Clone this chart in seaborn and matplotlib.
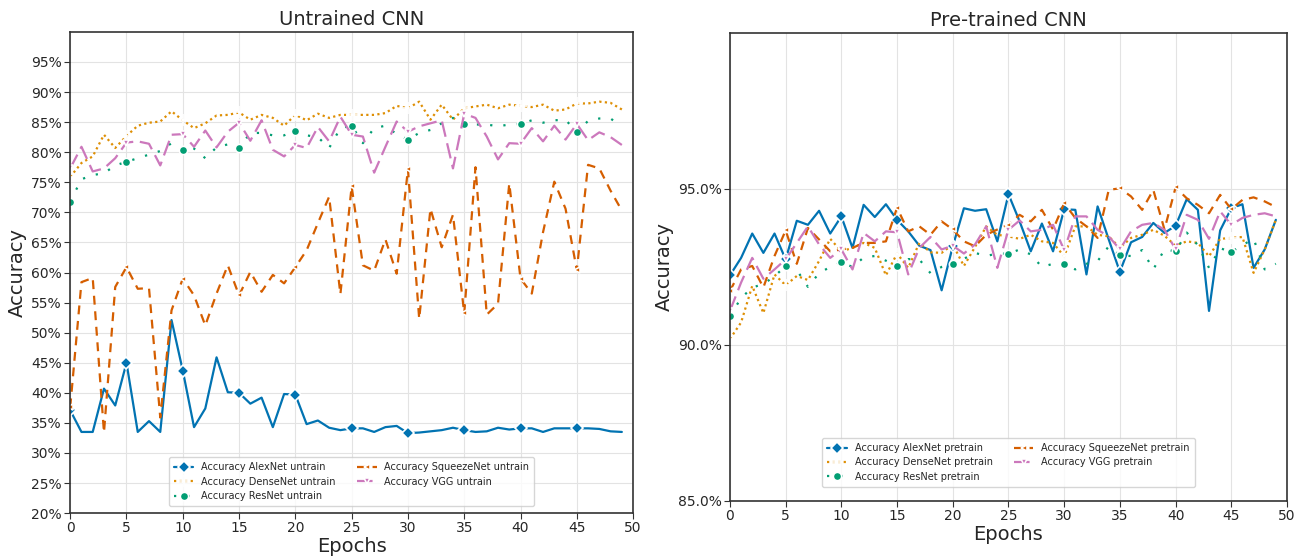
import numpy as np
import pandas as pd
import matplotlib
matplotlib.use("Agg")
import matplotlib.pyplot as plt
import seaborn as sns
from matplotlib.ticker import FuncFormatter

epochs = list(range(50))

# untrained accuracies (%)
alex_untrain = [37.1, 33.5, 33.5, 40.7, 37.9, 45.0, 33.5, 35.3, 33.5, 52.1,
                43.7, 34.3, 37.4, 45.9, 40.1, 40.0, 38.2, 39.2, 34.3, 39.8,
                39.7, 34.8, 35.4, 34.2, 33.8, 34.1, 34.1, 33.5, 34.3, 34.5,
                33.3, 33.4, 33.6, 33.8, 34.2, 33.8, 33.5, 33.6, 34.2, 33.9,
                34.1, 34.1, 33.5, 34.1, 34.1, 34.1, 34.1, 34.0, 33.6, 33.5]
dense_untrain = [75.9, 78.2, 79.3, 82.9, 80.7, 82.7, 84.4, 84.9, 85.1, 86.8,
                 85.3, 84.0, 84.8, 86.1, 86.2, 86.6, 85.4, 86.2, 85.7, 84.4,
                 86.2, 85.3, 86.4, 85.7, 86.2, 86.2, 86.2, 86.2, 86.5, 87.7,
                 87.3, 88.4, 85.4, 87.9, 85.4, 87.3, 87.6, 87.9, 87.3, 87.9,
                 87.7, 87.5, 87.9, 86.9, 87.1, 88.1, 88.1, 88.4, 88.2, 87.1]
resnet_untrain = [71.8, 75.5, 76.2, 76.5, 77.8, 78.4, 79.0, 79.6, 80.2, 81.5,
                  80.4, 80.6, 79.0, 80.8, 81.3, 80.7, 83.2, 83.2, 82.8, 82.8,
                  83.6, 82.8, 82.5, 80.7, 84.0, 84.4, 81.5, 84.0, 84.4, 83.0,
                  82.1, 83.2, 83.7, 84.8, 85.7, 84.7, 84.6, 84.6, 84.3, 84.6,
                  84.7, 85.3, 84.9, 85.3, 85.4, 83.3, 85.2, 85.6, 85.6, 84.2]
squeeze_untrain = [37.6, 58.4, 59.1, 33.4, 57.6, 60.9, 57.3, 57.4, 35.9, 53.7,
                   59.0, 56.2, 51.2, 56.5, 61.2, 56.2, 60.1, 56.8, 59.6, 58.2,
                   60.9, 63.7, 68.2, 72.6, 56.4, 74.3, 61.2, 60.3, 65.5, 59.8,
                   77.2, 52.3, 70.6, 64.2, 69.6, 53.2, 77.5, 53.0, 54.8, 74.8,
                   59.0, 56.5, 66.7, 75.1, 70.6, 60.4, 77.9, 77.3, 73.6, 70.3]
vgg_untrain = [77.3, 80.9, 76.8, 77.3, 79.0, 81.6, 81.8, 81.4, 77.8, 82.9,
               83.0, 80.9, 83.6, 80.8, 83.4, 84.9, 81.9, 85.3, 80.4, 79.3,
               81.2, 80.7, 84.2, 81.8, 85.9, 82.9, 82.6, 76.6, 80.9, 85.1,
               83.4, 84.3, 84.8, 85.3, 77.3, 86.4, 85.7, 82.6, 78.8, 81.5,
               81.4, 84.0, 81.8, 84.4, 82.1, 84.7, 82.0, 83.3, 82.5, 81.2]

# pre-trained accuracies (%)
alex_pretrain = [92.23, 92.79, 93.57, 92.95, 93.57, 92.74, 93.98, 93.85, 94.30, 93.57,
                 94.12, 93.11, 94.49, 94.10, 94.51, 94.01, 93.64, 93.18, 93.04, 91.75,
                 93.16, 94.38, 94.30, 94.35, 93.32, 94.83, 93.96, 93.00, 93.89, 93.00,
                 94.35, 94.33, 92.26, 94.44, 93.38, 92.34, 93.29, 93.46, 93.91, 93.59,
                 93.82, 94.67, 94.33, 91.09, 93.67, 94.38, 94.51, 92.47, 93.06, 94.01]
dense_pretrain = [90.19, 90.72, 91.89, 91.02, 92.26, 91.91, 92.21, 92.08, 92.69, 93.40,
                  93.00, 93.11, 93.27, 93.11, 92.23, 92.93, 92.47, 93.27, 92.97, 92.95,
                  93.22, 92.53, 93.14, 93.80, 93.53, 93.48, 93.40, 93.53, 93.32, 93.27,
                  92.84, 93.80, 93.80, 93.53, 93.48, 93.11, 93.43, 93.53, 93.69, 93.50,
                  93.18, 93.32, 93.27, 92.84, 93.40, 93.43, 93.46, 92.31, 93.06, 94.01]
resnet_pretrain = [90.93, 91.50, 91.84, 91.95, 92.20, 92.53, 92.40, 91.86, 92.30, 92.50,
                   92.65, 92.50, 92.80, 92.85, 92.70, 92.53, 92.75, 92.74, 92.30, 92.50,
                   92.60, 92.76, 92.95, 92.85, 92.93, 92.92, 93.06, 92.90, 92.50, 92.60,
                   92.58, 92.42, 92.60, 92.69, 93.16, 92.87, 92.85, 93.04, 92.42, 93.06,
                   93.00, 93.60, 93.20, 92.47, 93.10, 92.98, 93.20, 93.40, 92.42, 92.60]
squeeze_pretrain = [91.73, 92.42, 92.53, 91.84, 92.85, 93.67, 92.60, 93.75, 93.38, 93.00,
                    93.06, 93.11, 93.27, 93.27, 93.32, 94.40, 93.64, 93.80, 93.53, 93.96,
                    93.70, 93.32, 93.16, 93.53, 93.70, 93.85, 94.17, 93.96, 94.33, 93.70,
                    94.54, 94.07, 93.80, 93.43, 94.97, 95.02, 94.76, 94.33, 94.97, 93.70,
                    95.05, 94.70, 94.49, 94.22, 94.81, 94.35, 94.65, 94.73, 94.60, 94.42]
vgg_pretrain = [91.09, 92.00, 92.79, 92.12, 92.42, 92.74, 93.27, 93.80, 93.22, 92.79,
                93.06, 92.42, 93.59, 93.32, 93.64, 93.61, 92.26, 93.11, 93.46, 93.06,
                93.18, 92.93, 93.22, 93.80, 92.47, 93.69, 93.99, 93.64, 93.69, 93.85,
                93.04, 94.12, 94.12, 93.69, 93.48, 93.06, 93.64, 93.85, 93.91, 93.69,
                93.06, 94.17, 94.01, 93.40, 94.28, 93.85, 94.07, 94.17, 94.22, 94.12]

model_names = ["AlexNet", "DenseNet", "ResNet", "SqueezeNet", "VGG"]
untrained = [alex_untrain, dense_untrain, resnet_untrain, squeeze_untrain, vgg_untrain]
pretrained = [alex_pretrain, dense_pretrain, resnet_pretrain, squeeze_pretrain, vgg_pretrain]

sns.set_style("whitegrid", {"axes.edgecolor": "#333333", "grid.color": "#e3e3e3"})
plt.rcParams["font.family"] = ["DejaVu Sans"]
plt.rcParams["xtick.bottom"] = True
plt.rcParams["ytick.left"] = True

colors = sns.color_palette("colorblind")
styles = [
    dict(color=colors[0], linestyle="-", marker="D", markersize=6),
    dict(color=colors[1], linestyle=(0, (1, 1.5)), marker="+", markersize=8),
    dict(color=colors[2], linestyle=(0, (1, 5)), marker="o", markersize=6),
    dict(color=colors[3], linestyle=(0, (4, 3)), marker="<", markersize=5),
    dict(color=colors[4], linestyle=(0, (7, 3)), marker="v", markersize=5),
]

fig = plt.figure(figsize=(13, 5.59), dpi=100)
ax1 = fig.add_axes([0.054, 0.082, 0.433, 0.861])
ax2 = fig.add_axes([0.5615, 0.104, 0.4285, 0.837])


def draw(ax, series, tag):
    for name, vals, st in zip(model_names, series, styles):
        sns.lineplot(x=epochs, y=np.array(vals) / 100, ax=ax, markevery=5,
                     linewidth=1.6, markeredgewidth=1.2,
                     label=f"Accuracy {name} {tag}", **st)
    ax.set_xlim(0, 50)
    ax.set_xticks(range(0, 51, 5))
    ax.set_xlabel("Epochs", fontsize=14, labelpad=1)
    ax.set_ylabel("Accuracy", fontsize=14, labelpad=3)
    ax.tick_params(labelsize=10, length=4, pad=2, color="#333333")
    for sp in ax.spines.values():
        sp.set_linewidth(1.2)
    ax.legend(loc="lower center", ncol=2, fontsize=7, frameon=True,
              handlelength=2.0, columnspacing=2.2, labelspacing=0.45,
              borderpad=0.5)


draw(ax1, untrained, "untrain")
ax1.set_ylim(0.2, 1.0)
ax1.set_yticks(np.arange(0.20, 0.951, 0.05))
ax1.yaxis.set_major_formatter(FuncFormatter(lambda v, p: f"{v * 100:.0f}%"))
ax1.set_title("Untrained CNN", fontsize=14, pad=5)
ax1.legend_.set_bbox_to_anchor((0.5, 0.005))

draw(ax2, pretrained, "pretrain")
ax2.set_ylim(0.85, 1.0)
ax2.set_yticks([0.85, 0.90, 0.95])
ax2.yaxis.set_major_formatter(FuncFormatter(lambda v, p: f"{v * 100:.1f}%"))
ax2.set_title("Pre-trained CNN", fontsize=14, pad=5)
ax2.legend_.set_bbox_to_anchor((0.5, 0.02))

fig.savefig("out.png", dpi=100)
